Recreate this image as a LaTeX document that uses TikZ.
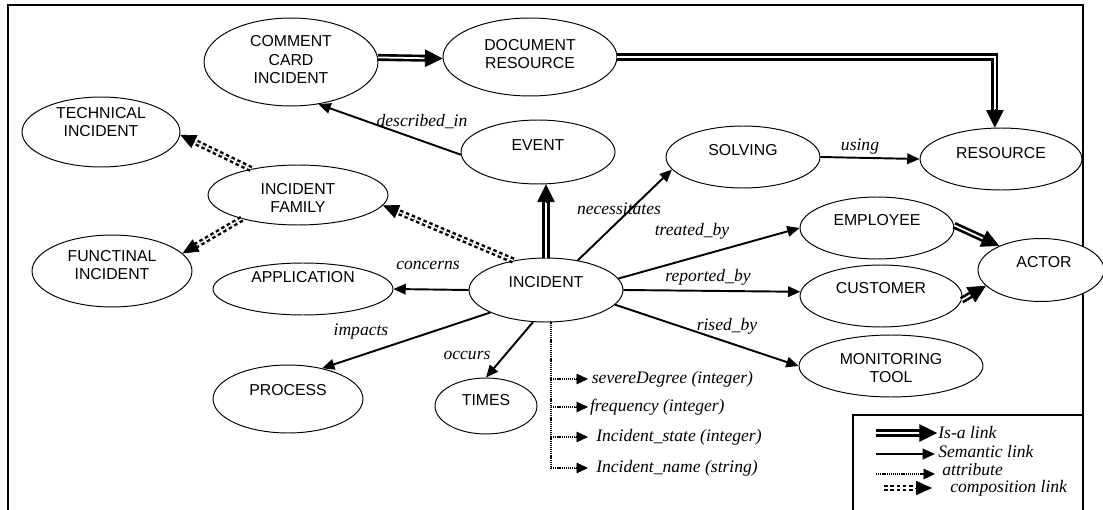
\documentclass[tikz,border=0pt]{standalone}
\usepackage{fontspec}
\setmainfont{Liberation Serif}
\newfontfamily\sansf{Liberation Sans}
\usetikzlibrary{shapes.geometric,arrows.meta,calc}
\begin{document}
\begin{tikzpicture}[x=0.02cm,y=-0.02cm,
  ent/.style 2 args={draw, ellipse, fill=white, line width=0.55pt, inner sep=0pt,
    minimum width=#1*0.04cm, minimum height=#2*0.04cm},
  tup/.style={yshift=#1*0.02cm, align=center, inner sep=0pt,
    font=\sansf\fontsize{9}{10.5}\selectfont},
  lab/.style={font=\itshape\fontsize{10}{12}\selectfont, inner sep=0.5pt},
  atx/.style={font=\itshape\fontsize{10}{12}\selectfont, inner sep=0pt, anchor=west},
  frame/.style={line width=0.6pt},
  sem/.style={line width=1.1pt, -{Triangle[length=7pt,width=6pt]}},
  isaline/.style={double, line width=1.5pt, double distance=1pt, shorten >=8pt},
  isatip/.style={line width=0.4pt, -{Triangle[length=10pt,width=10pt]}},
  compline/.style={double, line width=1.4pt, double distance=0.8pt,
    dash pattern=on 2pt off 1.6pt, shorten >=6pt},
  comptip/.style={line width=0.4pt, -{Triangle[length=9pt,width=8pt]}},
  attrline/.style={line width=1.1pt, dash pattern=on 0.7pt off 0.5pt},
  attrtip/.style={line width=0.4pt, -{Triangle[length=6.5pt,width=6pt]}}
]
\useasboundingbox (0,0) rectangle (1103,510);

% frame
\draw[frame] (8,515) -- (8,5) -- (1083,5) -- (1083,515);
\draw[frame] (853,515) -- (853,415) -- (1083,415);

% entities
\node[ent={87}{44}, label={[tup=2]center:COMMENT\\CARD\\INCIDENT}] (cci) at (291,62) {};
\node[ent={87}{39}, label={[tup=3]center:DOCUMENT\\RESOURCE}] (doc) at (530,57) {};
\node[ent={79}{35}, label={[tup=10]center:TECHNICAL\\INCIDENT}] (tech) at (101,132) {};
\node[ent={77}{32}, label={[tup=7]center:EVENT}] (event) at (538,152) {};
\node[ent={77}{31}, label={[tup=7]center:SOLVING}] (solv) at (743,157) {};
\node[ent={81}{31}, label={[tup=6]center:RESOURCE}] (res) at (1001,159) {};
\node[ent={90}{30}, label={[tup=-3]center:INCIDENT\\FAMILY}] (fam) at (298,195) {};
\node[ent={80}{36}, label={[tup=6]center:FUNCTINAL\\INCIDENT}] (func) at (112,271) {};
\node[ent={90}{26}, label={[tup=12]center:APPLICATION}] (app) at (303,289) {};
\node[ent={77}{32}, label={[tup=8]center:INCIDENT}] (inc) at (546,290) {};
\node[ent={77}{31}, label={[tup=8]center:EMPLOYEE}] (emp) at (877,228) {};
\node[ent={81}{31}, label={[tup=8]center:CUSTOMER}] (cust) at (881,296) {};
\node[ent={63}{31.5}, label={[tup=8,xshift=3*0.02cm]center:ACTOR}] (actor) at (1041,270) {};
\node[ent={92}{31}, label={[tup=-2]center:MONITORING\\TOOL}] (mon) at (891,366) {};
\node[ent={75}{34}, label={[tup=9]center:PROCESS}] (proc) at (288,399) {};
\node[ent={51}{28}, label={[tup=6]center:TIMES}] (times) at (486,406) {};

% is-a links (shaft, then solid tip)
\draw[isaline] (cci.3) -- (doc.181);
\draw[isatip] ($(doc.181)!10.5pt!(cci.3)$) -- (doc.181);
\draw[isaline] (doc.east) -| (res.101);
\draw[isatip] ($(res.101)!10.5pt!(doc.east -| res.101)$) -- (res.101);
\draw[isaline] (inc.north) -- (inc.north |- event.south);
\draw[isatip] ($(inc.north |- event.south)!10.5pt!(inc.north)$) -- (inc.north |- event.south);
\draw[isaline] (emp.2) -- (actor.150);
\draw[isatip] ($(actor.150)!10.5pt!(emp.2)$) -- (actor.150);
\draw[isaline] (cust.-3) -- (actor.196);
\draw[isatip] ($(actor.196)!10.5pt!(cust.-3)$) -- (actor.196);

% semantic links
\draw[sem] (event.182) -- (cci.-57);
\draw[sem] (solv.east) -- (res.west);
\draw[sem] (inc.43) -- (solv.190);
\draw[sem] (inc.9) -- (emp.west);
\draw[sem] (inc.0) -- (cust.177);
\draw[sem] (inc.-12) -- (mon.west);
\draw[sem] (inc.west) -- (app.east);
\draw[sem] (inc.202) -- (proc.42);
\draw[sem] (inc.248) -- (times.north);

% composition links
\draw[compline] (inc.138) -- (fam.-7);
\draw[comptip] ($(fam.-7)!9.5pt!(inc.138)$) -- (fam.-7);
\draw[compline] (fam.151) -- (tech.-2);
\draw[comptip] ($(tech.-2)!9.5pt!(fam.151)$) -- (tech.-2);
\draw[compline] (fam.203) -- (func.14);
\draw[comptip] ($(func.14)!9.5pt!(fam.203)$) -- (func.14);

% link labels
\node[lab] (ldesc) at (422,122) {described\_in};
\node[lab] (lusing) at (860,147) {using};
\node[lab] (lnec) at (619,209) {necessitates};
\node[lab] (ltreat) at (692,231) {treated\_by};
\node[lab] (lrep) at (708,277) {reported\_by};
\node[lab] (lrised) at (727,326) {rised\_by};
\node[lab] (lconc) at (428,265) {concerns};
\node[lab] (limp) at (361,332) {impacts};
\node[lab] (locc) at (467,355) {occurs};

% attributes
\coordinate (ab) at (551,322);
\node[atx] (t1) at (588,379) {\hspace{2pt}severeDegree (integer)};
\node[atx] (t2) at (588,407) {\hspace{1pt}frequency (integer)};
\node[atx] (t3) at (588,437) {\hspace{4.5pt}Incident\_state (integer)};
\node[atx] (t4) at (588,468) {\hspace{4.5pt}Incident\_name (string)};
\draw[attrline] (inc.south -| ab) -- (ab |- t4.west);
\foreach \t in {t1,t2,t3,t4} {
  \draw[attrline, shorten >=5pt] (ab |- \t.west) -- (\t.west);
  \draw[attrtip] ($(\t.west)+(-13,0)$) -- (\t.west);
}

% legend
\coordinate (g1s) at (876,433); \coordinate (g1e) at (937,433);
\coordinate (g2s) at (876,454); \coordinate (g2e) at (935,454);
\coordinate (g3s) at (876,474); \coordinate (g3e) at (935,474);
\coordinate (g4s) at (884,488); \coordinate (g4e) at (932,488);
\draw[isaline] (g1s) -- (g1e);
\draw[isatip] ($(g1e)!10.5pt!(g1s)$) -- (g1e);
\draw[sem] (g2s) -- (g2e);
\draw[attrline, shorten >=5pt] (g3s) -- (g3e);
\draw[attrtip] ($(g3e)!7pt!(g3s)$) -- (g3e);
\draw[compline] (g4s) -- (g4e);
\draw[comptip] ($(g4e)!9.5pt!(g4s)$) -- (g4e);
\node[atx] (k1) at (938,432) {Is-a link};
\node[atx] (k2) at (938,451) {Semantic link};
\node[atx] (k3) at (942,470) {attribute};
\node[atx] (k4) at (950,488) {composition link};
\end{tikzpicture}
\end{document}
